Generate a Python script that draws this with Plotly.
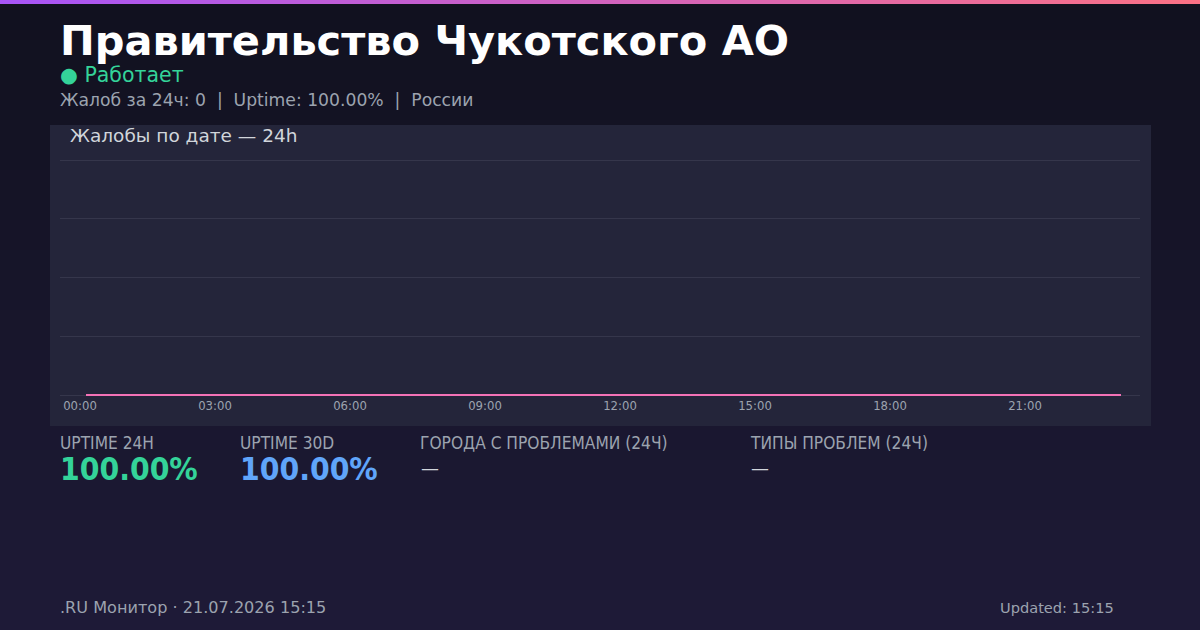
import plotly.graph_objects as go

# ---- data ----
times = ["2026-07-21 %02d:08" % h for h in range(24)]
complaints = [0] * 24
tick_vals = ["2026-07-21 %02d:00" % h for h in range(0, 24, 3)]
tick_text = ["%02d:00" % h for h in range(0, 24, 3)]

title = "Правительство Чукотского АО"
status = "● Работает"
subtitle = "Жалоб за 24ч: 0  |  Uptime: 100.00%  |  России"
chart_title = "Жалобы по дате — 24h"
stat_labels = ["UPTIME 24H", "UPTIME 30D", "ГОРОДА С ПРОБЛЕМАМИ (24Ч)", "ТИПЫ ПРОБЛЕМ (24Ч)"]
stat_values = ["100.00%", "100.00%", "—", "—"]
footer_left = ".RU Монитор · 21.07.2026 15:15"
footer_right = "Updated: 15:15"

W, H = 1200, 630
def py(y):
    return 1 - y / H
def px(x):
    return x / W

fig = go.Figure()
fig.add_trace(go.Scatter(x=times, y=complaints, mode="lines",
                         line=dict(color="#f472b6", width=2.2), hoverinfo="skip"))

shapes = []
# background vertical gradient
n = 63
c0 = (0x11, 0x11, 0x1f)
c1 = (0x1e, 0x1a, 0x37)
for i in range(n):
    t = i / (n - 1)
    c = tuple(round(a + (b - a) * t) for a, b in zip(c0, c1))
    shapes.append(dict(type="rect", xref="paper", yref="paper", layer="below",
                       x0=0, x1=1, y0=py((i + 1) * 10 + 0.5), y1=py(i * 10),
                       fillcolor="rgb(%d,%d,%d)" % c, line=dict(width=0)))
# top gradient bar
m = 60
g0 = (0xa8, 0x55, 0xf7)
g1 = (0xfb, 0x71, 0x85)
for i in range(m):
    t = i / (m - 1)
    c = tuple(round(a + (b - a) * t) for a, b in zip(g0, g1))
    shapes.append(dict(type="rect", xref="paper", yref="paper", layer="below",
                       x0=i / m, x1=(i + 1) / m + 0.001, y0=py(4), y1=1,
                       fillcolor="rgb(%d,%d,%d)" % c, line=dict(width=0)))
# chart panel
shapes.append(dict(type="rect", xref="paper", yref="paper", layer="below",
                   x0=px(50), x1=px(1151), y0=py(426), y1=py(125),
                   fillcolor="#24253a", line=dict(width=0)))

ann = []
ann.append(dict(text="<b>%s</b>" % title, x=px(58), y=py(40), xanchor="left", yanchor="middle",
                font=dict(size=41.5, color="#ffffff", family="DejaVu Sans")))
ann.append(dict(text=status, x=px(58), y=py(75), xanchor="left", yanchor="middle",
                font=dict(size=20.5, color="#34d399", family="DejaVu Sans")))
ann.append(dict(text=subtitle, x=px(58), y=py(100), xanchor="left", yanchor="middle",
                font=dict(size=17.2, color="#9ca3af", family="DejaVu Sans")))
ann.append(dict(text=chart_title, x=px(68), y=py(135), xanchor="left", yanchor="middle",
                font=dict(size=18.5, color="#d1d5db", family="DejaVu Sans")))
stat_x = [58, 238, 418, 748]
val_colors = ["#34d399", "#60a5fa", "#d1d5db", "#d1d5db"]
for i in range(4):
    ann.append(dict(text=stat_labels[i], x=px(stat_x[i]), y=py(443), xanchor="left", yanchor="middle",
                    font=dict(size=17.2, color="#9ca3af", family="DejaVu Sans Condensed")))
    if stat_values[i] == "—":
        ann.append(dict(text=stat_values[i], x=px(stat_x[i] + 1), y=py(468), xanchor="left",
                        yanchor="middle",
                        font=dict(size=20, color=val_colors[i], family="DejaVu Sans Condensed")))
    else:
        ann.append(dict(text="<b>%s</b>" % stat_values[i], x=px(stat_x[i]), y=py(469), xanchor="left",
                        yanchor="middle",
                        font=dict(size=31.5, color=val_colors[i], family="DejaVu Sans Condensed")))
ann.append(dict(text=footer_left, x=px(58), y=py(607), xanchor="left", yanchor="middle",
                font=dict(size=16.1, color="#9ca3af", family="DejaVu Sans")))
ann.append(dict(text=footer_right, x=px(1116), y=py(607), xanchor="right", yanchor="middle",
                font=dict(size=14.6, color="#9ca3af", family="DejaVu Sans")))
for a in ann:
    a.update(xref="paper", yref="paper", showarrow=False)

fig.update_layout(
    width=W, height=H, margin=dict(l=0, r=0, t=0, b=0),
    paper_bgcolor="#151424", plot_bgcolor="rgba(0,0,0,0)",
    showlegend=False, shapes=shapes, annotations=ann,
    xaxis=dict(domain=[px(60), px(1140)], type="date",
               range=["2026-07-20 23:33:20", "2026-07-21 23:33:20"],
               tickvals=tick_vals, ticktext=tick_text, showgrid=False,
               zeroline=False, showline=False, ticks="", ticklen=0,
               tickfont=dict(size=11.7, color="#9ca3af", family="DejaVu Sans")),
    yaxis=dict(domain=[py(397), py(158)], range=[-0.034, 4.034], dtick=1, showticklabels=False,
               showgrid=True, gridcolor="#35364b", gridwidth=1, zeroline=False,
               showline=False, ticks=""),
    font=dict(family="DejaVu Sans"),
)
fig.write_html("out.html")
